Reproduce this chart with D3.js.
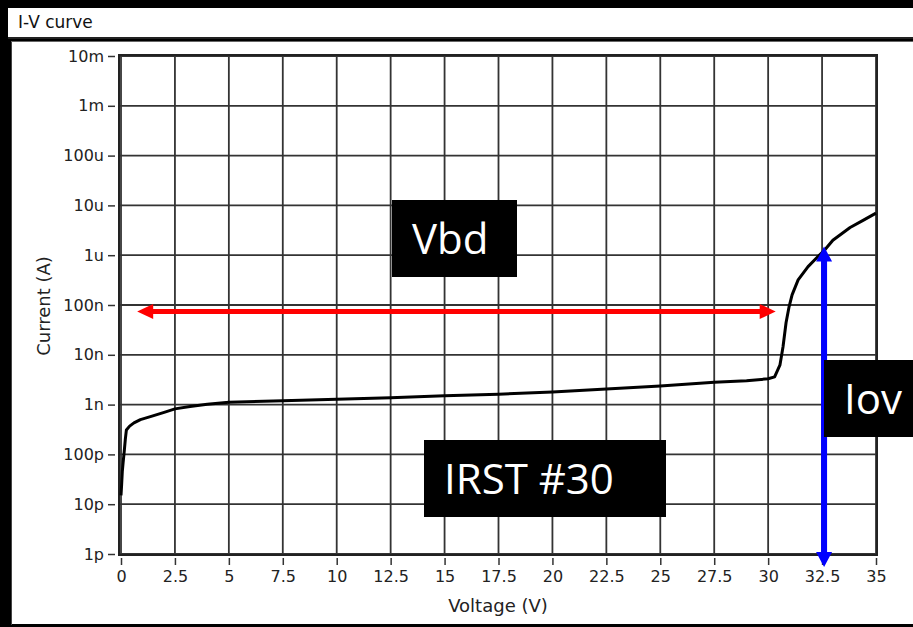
<!DOCTYPE html>
<html><head><meta charset="utf-8">
<script src="https://cdn.jsdelivr.net/npm/d3@7"></script>
<style>html,body{margin:0;padding:0;background:#000;}svg{display:block;}</style>
</head><body>
<script>
// ---- data ----
const voltage = [0, 0.03, 0.06, 0.1, 0.15, 0.2, 0.25, 0.4, 0.6, 0.9, 1.4, 2.0, 2.5, 3.2, 4, 5, 7.5, 10, 12.5, 15, 17.5, 20, 22.5, 25, 27.5, 29, 30, 30.3, 30.55, 30.69, 30.83, 30.97, 31.11, 31.39, 31.85, 32.31, 32.64, 33.0, 33.8, 34.4, 35];
const current = [15e-12, 25e-12, 45e-12, 70e-12, 115e-12, 200e-12, 310e-12, 370e-12, 430e-12, 500e-12, 580e-12, 700e-12, 820e-12, 920e-12, 1.02e-9, 1.12e-9, 1.2e-9, 1.28e-9, 1.38e-9, 1.5e-9, 1.62e-9, 1.8e-9, 2.05e-9, 2.35e-9, 2.8e-9, 3.0e-9, 3.3e-9, 3.6e-9, 6.3e-9, 14.5e-9, 44e-9, 92e-9, 160e-9, 320e-9, 590e-9, 940e-9, 1.3e-6, 2.0e-6, 3.6e-6, 5e-6, 7e-6];
const xTicks = [0, 2.5, 5, 7.5, 10, 12.5, 15, 17.5, 20, 22.5, 25, 27.5, 30, 32.5, 35];
const yTicks = [1e-12, 1e-11, 1e-10, 1e-9, 1e-8, 1e-7, 1e-6, 1e-5, 1e-4, 1e-3, 1e-2];
const yTickLabels = ["1p", "10p", "100p", "1n", "10n", "100n", "1u", "10u", "100u", "1m", "10m"];
const title = "I-V curve";
const xLabel = "Voltage (V)";
const yLabel = "Current (A)";
// annotations
const vbdArrow = {x0: 0.75, x1: 30.35, y: 7.4e-8};
const iovArrow = {x: 32.5, yTop: 1.3e-6};
const notes = ["Vbd", "IRST #30", "Iov"];

const W = 913, H = 627;
const svg = d3.select("body").append("svg").attr("width", W).attr("height", H);
svg.append("rect").attr("width", W).attr("height", H).attr("fill", "#000");

// title bar
svg.append("rect").attr("x", 8).attr("y", 8).attr("width", W - 8).attr("height", 29).attr("fill", "#fff");
svg.append("rect").attr("x", 8).attr("y", 37).attr("width", W - 8).attr("height", 2).attr("fill", "#222");
svg.append("text").attr("x", 18).attr("y", 28).text(title)
  .attr("font-family", "DejaVu Sans").attr("font-size", 17).attr("fill", "#111");

// panel
svg.append("rect").attr("x", 12).attr("y", 41).attr("width", W - 12).attr("height", 583)
  .attr("fill", "#fff");
svg.append("line").attr("x1", 11.5).attr("x2", 11.5).attr("y1", 41).attr("y2", 625).attr("stroke", "#444").attr("stroke-width", 1);
svg.append("line").attr("x1", 11).attr("x2", W).attr("y1", 41.5).attr("y2", 41.5).attr("stroke", "#666").attr("stroke-width", 1);

const L = 119, R = 877, T = 55, B = 555;
const x = d3.scaleLinear().domain([0, 35]).range([121, 876]);
const y = d3.scaleLog().domain([1e-12, 1e-2]).range([554, 56]);

const g = svg.append("g");
// grid
g.selectAll(".vg").data(xTicks).join("line")
  .attr("x1", d => x(d)).attr("x2", d => x(d)).attr("y1", T).attr("y2", B)
  .attr("stroke", "#333").attr("stroke-width", 1.8);
g.selectAll(".hg").data(yTicks).join("line")
  .attr("x1", L).attr("x2", R).attr("y1", d => y(d)).attr("y2", d => y(d))
  .attr("stroke", "#333").attr("stroke-width", 1.8);
// frame
g.append("rect").attr("x", L).attr("y", T).attr("width", R - L).attr("height", B - T)
  .attr("fill", "none").attr("stroke", "#222").attr("stroke-width", 2);

// axes
const font = "DejaVu Sans";
const yAxis = d3.axisLeft(y).tickValues(yTicks).tickFormat((d, i) => yTickLabels[i]).tickSize(7).tickPadding(4);
const ya = svg.append("g").attr("transform", `translate(${L - 4},0)`).call(yAxis);
ya.select(".domain").remove();
ya.selectAll(".tick line").attr("stroke", "#333").attr("stroke-width", 1.5);
ya.selectAll(".tick text").attr("font-family", font).attr("font-size", 16).attr("fill", "#222");

const xAxis = d3.axisBottom(x).tickValues(xTicks).tickFormat(d => String(d)).tickSize(7).tickPadding(6);
const xa = svg.append("g").attr("transform", `translate(0,${B + 3})`).call(xAxis);
xa.select(".domain").remove();
xa.selectAll(".tick line").attr("stroke", "#333").attr("stroke-width", 1.5);
xa.selectAll(".tick text").attr("font-family", font).attr("font-size", 16).attr("fill", "#222");

svg.append("text").attr("x", 498).attr("y", 612).attr("text-anchor", "middle").text(xLabel)
  .attr("font-family", font).attr("font-size", 18).attr("fill", "#222");
svg.append("text").attr("transform", "translate(50,306) rotate(-90)").attr("text-anchor", "middle").text(yLabel)
  .attr("font-family", font).attr("font-size", 18).attr("fill", "#222");

// curve
const pts = voltage.map((v, i) => [v, current[i]]);
svg.append("path").datum(pts)
  .attr("d", d3.line().x(d => x(d[0])).y(d => y(d[1])))
  .attr("fill", "none").attr("stroke", "#000").attr("stroke-width", 3).attr("stroke-linejoin", "round");

// red double arrow
const ry = y(vbdArrow.y), rx0 = x(vbdArrow.x0), rx1 = x(vbdArrow.x1);
const red = "#ff0000";
svg.append("line").attr("x1", rx0 + 12).attr("x2", rx1 - 12).attr("y1", ry).attr("y2", ry)
  .attr("stroke", red).attr("stroke-width", 5);
svg.append("path").attr("d", `M${rx0},${ry} L${rx0 + 16},${ry - 7.5} L${rx0 + 16},${ry + 7.5} Z`).attr("fill", red);
svg.append("path").attr("d", `M${rx1},${ry} L${rx1 - 16},${ry - 7.5} L${rx1 - 16},${ry + 7.5} Z`).attr("fill", red);

// blue double arrow
const bx = x(iovArrow.x) + 2, by0 = y(iovArrow.yTop) - 3, by1 = B + 12;
const blue = "#0000ff";
svg.append("line").attr("x1", bx).attr("x2", bx).attr("y1", by0 + 12).attr("y2", by1 - 12)
  .attr("stroke", blue).attr("stroke-width", 6);
svg.append("path").attr("d", `M${bx},${by0} L${bx - 8},${by0 + 15} L${bx + 8},${by0 + 15} Z`).attr("fill", blue);
svg.append("path").attr("d", `M${bx},${by1} L${bx - 8},${by1 - 15} L${bx + 8},${by1 - 15} Z`).attr("fill", blue);

// annotation boxes
const boxes = [
  {x: 392, y: 200, w: 125, h: 77, tx: 412, ty: 254, t: notes[0]},
  {x: 424, y: 440, w: 242, h: 77, tx: 444, ty: 494, t: notes[1]},
  {x: 824, y: 360, w: 89, h: 77, tx: 844, ty: 414, t: notes[2]}
];
boxes.forEach(b => {
  svg.append("rect").attr("x", b.x).attr("y", b.y).attr("width", b.w).attr("height", b.h).attr("fill", "#000");
  svg.append("text").attr("x", b.tx).attr("y", b.ty).text(b.t)
    .attr("font-family", "Open Sans").attr("font-size", 42).attr("fill", "#fff");
});
</script>
</body></html>
